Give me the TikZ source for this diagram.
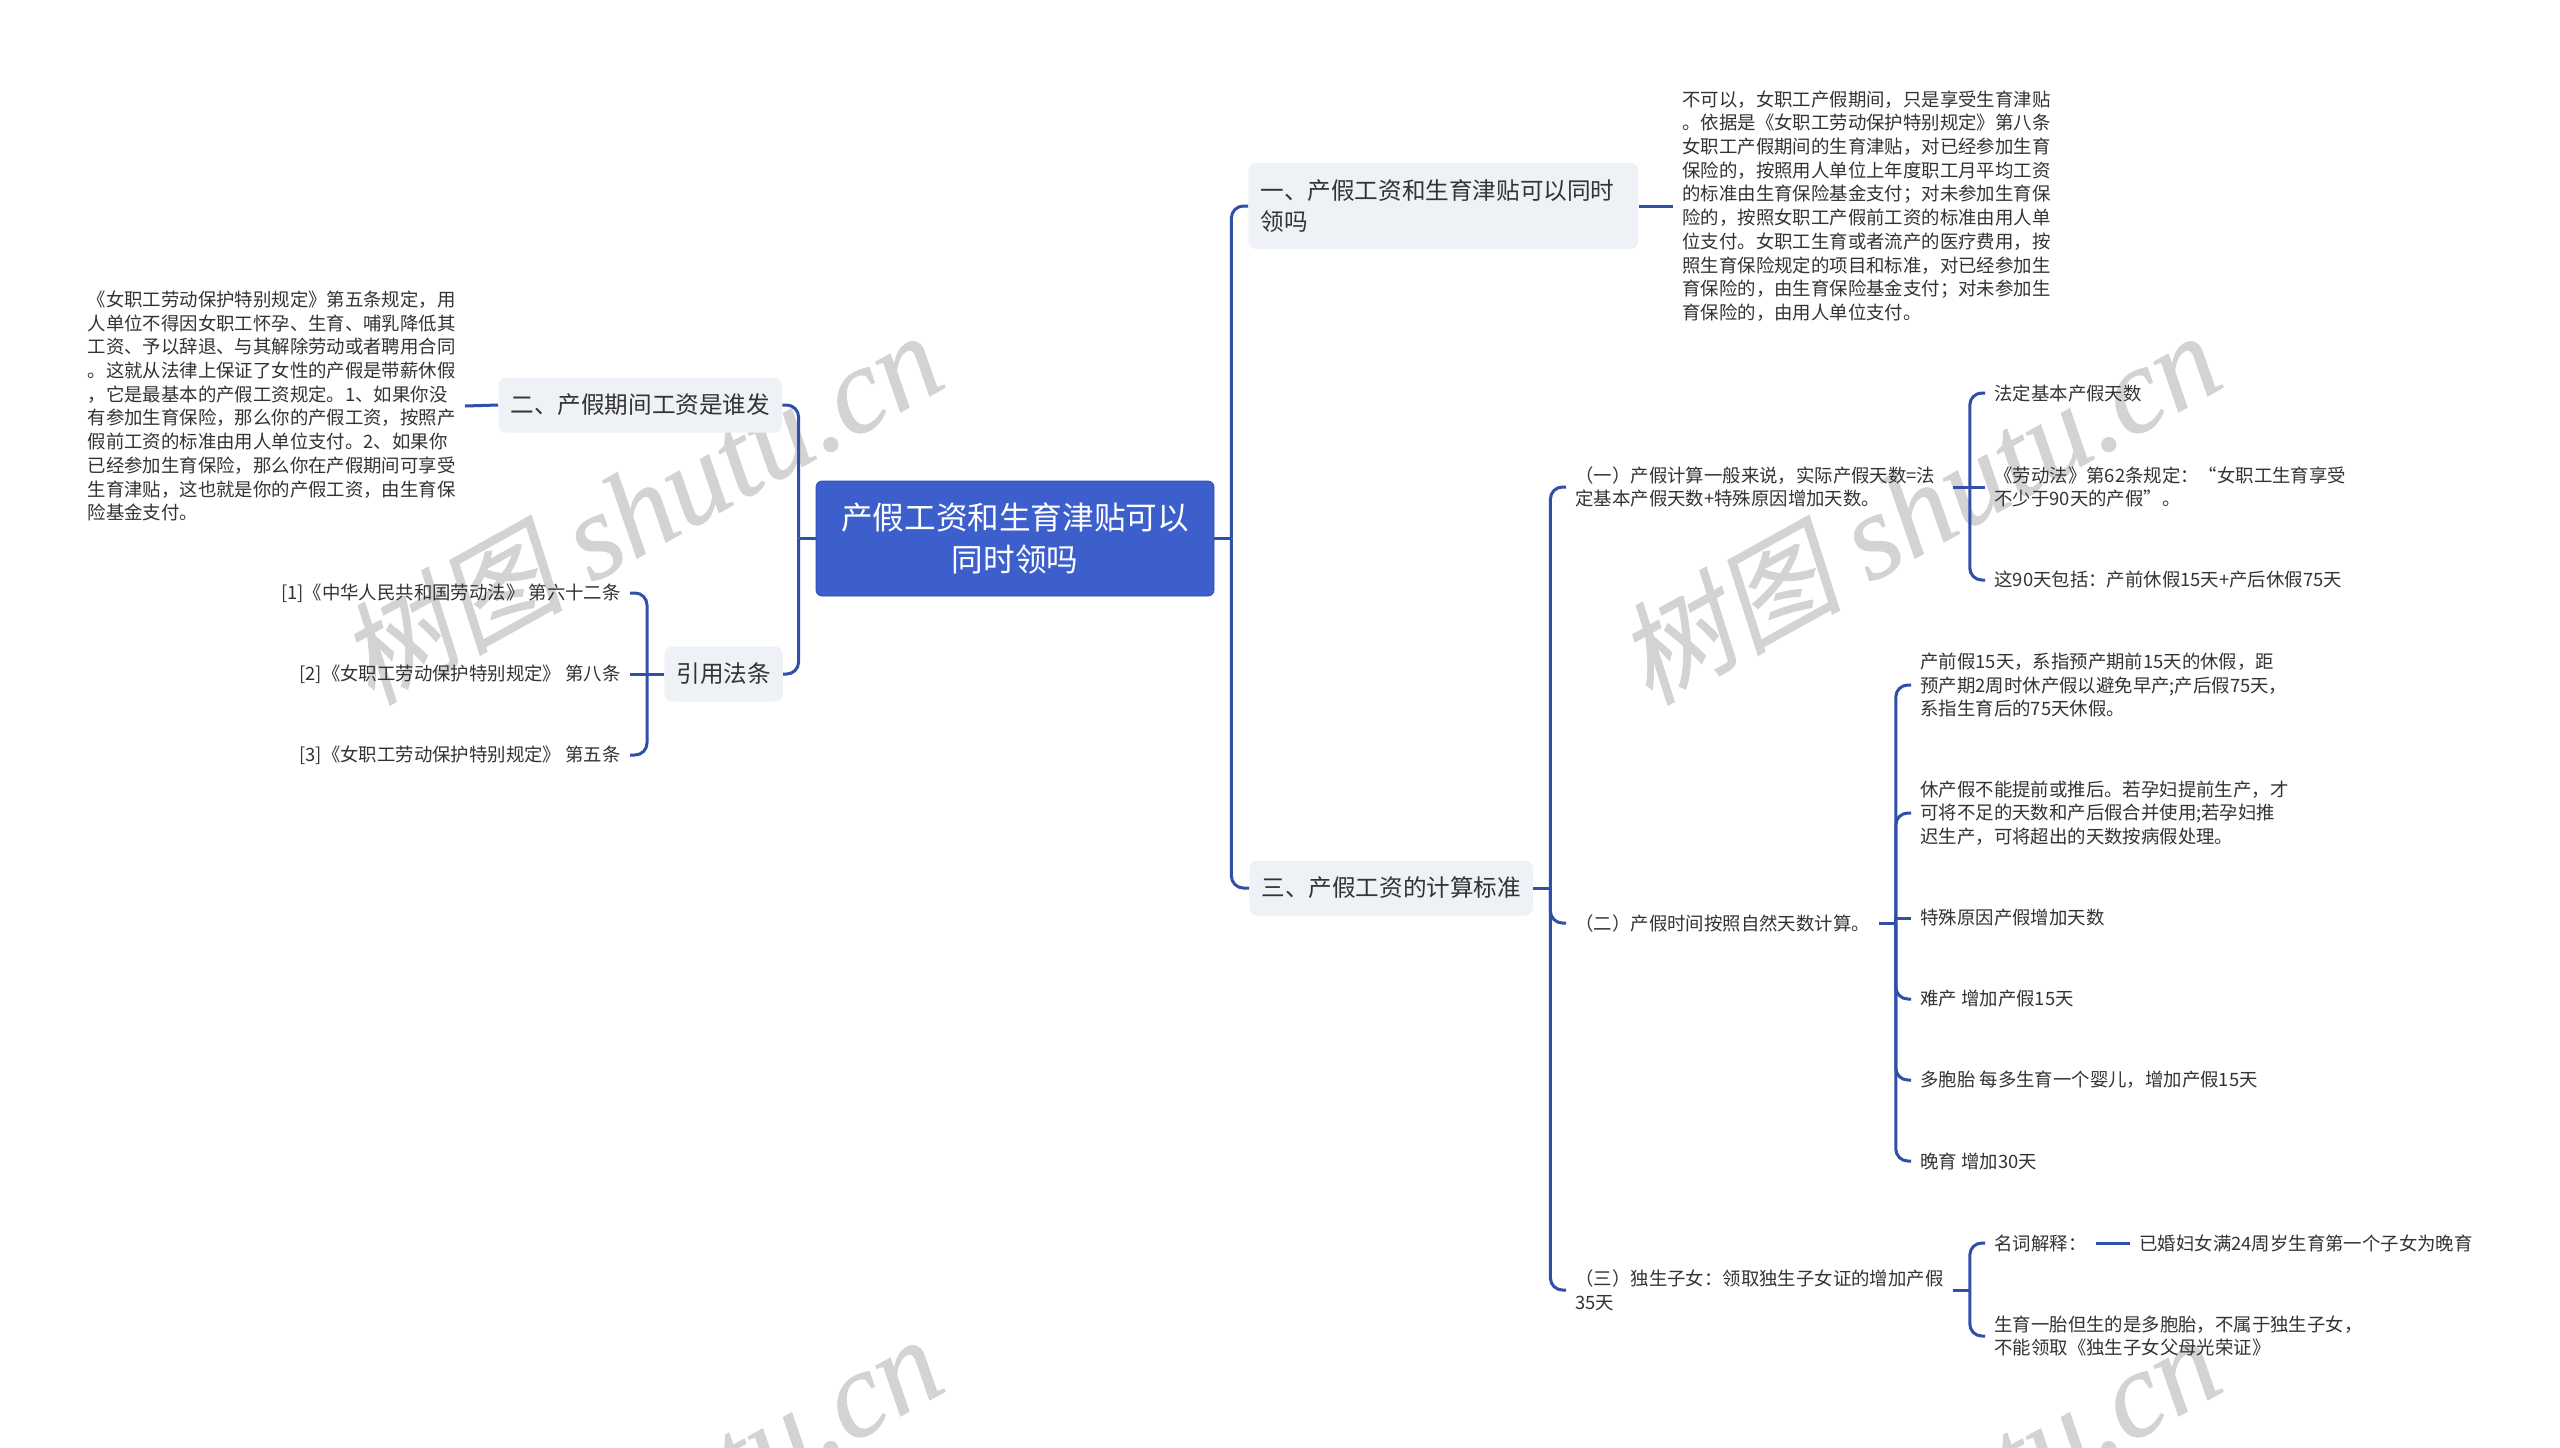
\documentclass[tikz,border=0pt]{standalone}
\usepackage{fontspec}
\setmainfont{Noto Sans CJK SC}
\newfontfamily\wmcjk[FakeSlant=0.2,FakeBold=0.6]{Noto Sans CJK SC}
\newfontfamily\wmlat[ItalicFeatures={FakeBold=0.6}]{Liberation Serif}
\definecolor{linkblue}{HTML}{2F4FA8}
\definecolor{rootblue}{HTML}{3C5FCC}
\definecolor{nodegrey}{HTML}{EEF1F5}
\definecolor{inkgrey}{HTML}{333333}
\definecolor{markgrey}{HTML}{D3D3D3}
\tikzset{
  x=0.5pt,y=-0.5pt,
  link/.style={draw=linkblue,line width=1.5pt,rounded corners=6pt},
  stem/.style={draw=linkblue,line width=1.5pt},
  rootnode/.style={fill=rootblue,draw=linkblue,line width=0.4pt,rounded corners=3pt,minimum width=199pt,minimum height=57.5pt,
    text=white,align=center,inner sep=0pt,font=\fontsize{15.8}{21}\selectfont},
  topic/.style={fill=nodegrey,rounded corners=4pt,inner ysep=0pt,inner xsep=6pt,text=inkgrey,anchor=west,align=left,
    font=\fontsize{11.8}{15.5}\selectfont},
  leaf/.style={text=inkgrey,align=left,inner ysep=2pt,inner xsep=4.5pt,font=\fontsize{9.2}{11.85}\selectfont},
  wm/.style={text=markgrey,inner sep=0pt,rotate=29},
}
\newcommand{\wmtext}{{\wmcjk\fontsize{56}{60}\selectfont 树图}\hspace{14pt}{\wmlat\itshape\fontsize{61}{64}\selectfont shutu.cn}}
\begin{document}
\begin{tikzpicture}
\path[use as bounding box,fill=white] (0,0) rectangle (2560,1447);
% watermarks
\node[wm] (wa) at (640,508) {\wmtext};
\node[wm] (wb) at (1918,508) {\wmtext};
\node[wm] (wc) at (640,1512) {\wmtext};
\node[wm] (wd) at (1918,1512) {\wmtext};
% root
\node[rootnode] (root) at (1015,538.5) {产假工资和生育津贴可以\\同时领吗};
% topics
\node[topic,minimum width=141.5pt,minimum height=27.5pt] (two) at (498,405) {二、产假期间工资是谁发};
\node[topic,minimum width=58.5pt,minimum height=27.5pt] (cite) at (664,674) {引用法条};
\node[topic,minimum width=195pt,minimum height=43pt,text width=183pt] (one) at (1248,206) {一、产假工资和生育津贴可以同时\\领吗};
\node[topic,minimum width=141pt,minimum height=27.5pt] (three) at (1249,888) {三、产假工资的计算标准};
% left leaves
\node[leaf,anchor=east,text width=184pt] (twotext) at (465,406) {《女职工劳动保护特别规定》第五条规定，用\\人单位不得因女职工怀孕、生育、哺乳降低其\\工资、予以辞退、与其解除劳动或者聘用合同\\。这就从法律上保证了女性的产假是带薪休假\\，它是最基本的产假工资规定。1、如果你没\\有参加生育保险，那么你的产假工资，按照产\\假前工资的标准由用人单位支付。2、如果你\\已经参加生育保险，那么你在产假期间可享受\\生育津贴，这也就是你的产假工资，由生育保\\险基金支付。};
\node[leaf,anchor=east] (ra) at (630,593) {[1]《中华人民共和国劳动法》 第六十二条};
\node[leaf,anchor=east] (rb) at (630,674) {[2]《女职工劳动保护特别规定》 第八条};
\node[leaf,anchor=east] (rc) at (630,755) {[3]《女职工劳动保护特别规定》 第五条};
% right of one
\node[leaf,anchor=west,text width=184pt] (onetext) at (1673,206) {不可以，女职工产假期间，只是享受生育津贴\\。依据是《女职工劳动保护特别规定》第八条\\女职工产假期间的生育津贴，对已经参加生育\\保险的，按照用人单位上年度职工月平均工资\\的标准由生育保险基金支付；对未参加生育保\\险的，按照女职工产假前工资的标准由用人单\\位支付。女职工生育或者流产的医疗费用，按\\照生育保险规定的项目和标准，对已经参加生\\育保险的，由生育保险基金支付；对未参加生\\育保险的，由用人单位支付。};
% subsections
\node[leaf,anchor=west,text width=184pt] (sa) at (1566,487) {（一）产假计算一般来说，实际产假天数=法\\定基本产假天数+特殊原因增加天数。};
\node[leaf,anchor=west,text width=147pt] (sb) at (1566,923) {（二）产假时间按照自然天数计算。};
\node[leaf,anchor=west,text width=184pt] (sc) at (1566,1290) {（三）独生子女：领取独生子女证的增加产假\\35天};
% sa children
\node[leaf,anchor=west] (saa) at (1985,393) {法定基本产假天数};
\node[leaf,anchor=west] (sab) at (1985,487) {《劳动法》第62条规定：“女职工生育享受\\不少于90天的产假”。};
\node[leaf,anchor=west] (sac) at (1985,580) {这90天包括：产前休假15天+产后休假75天};
% sb children
\node[leaf,anchor=west] (sba) at (1911,685) {产前假15天，系指预产期前15天的休假，距\\预产期2周时休产假以避免早产;产后假75天，\\系指生育后的75天休假。};
\node[leaf,anchor=west] (sbb) at (1911,813) {休产假不能提前或推后。若孕妇提前生产，才\\可将不足的天数和产后假合并使用;若孕妇推\\迟生产，可将超出的天数按病假处理。};
\node[leaf,anchor=west] (sbc) at (1911,918) {特殊原因产假增加天数};
\node[leaf,anchor=west] (sbd) at (1911,999) {难产 增加产假15天};
\node[leaf,anchor=west] (sbe) at (1911,1080) {多胞胎 每多生育一个婴儿，增加产假15天};
\node[leaf,anchor=west] (sbf) at (1911,1161) {晚育 增加30天};
% sc children
\node[leaf,anchor=west] (sca) at (1985,1243) {名词解释：};
\node[leaf,anchor=west] (scb) at (2130,1243) {已婚妇女满24周岁生育第一个子女为晚育};
\node[leaf,anchor=west] (scc) at (1985,1336) {生育一胎但生的是多胞胎，不属于独生子女，\\不能领取《独生子女父母光荣证》};
% connectors
\draw[stem] (root.west) -- ++(-17,0);
\draw[link] (root.west) ++(-17,0) |- (two.east);
\draw[link] (root.west) ++(-17,0) |- (cite.east);
\draw[stem] (two.west) -- (twotext.east);
\draw[stem] (cite.west) -- (rb.east);
\draw[link] (cite.west) ++(-17,0) |- (ra.east);
\draw[link] (cite.west) ++(-17,0) |- (rc.east);
\draw[stem] (root.east) -- ++(17,0);
\draw[link] (root.east) ++(17,0) |- (one.west);
\draw[link] (root.east) ++(17,0) |- (three.west);
\draw[stem] (one.east) -- (onetext.west);
\draw[stem] (three.east) -- ++(17,0);
\draw[link] (three.east) ++(17,0) |- (sa.west);
\draw[link] (three.east) ++(17,0) |- (sb.west);
\draw[link] (three.east) ++(17,0) |- (sc.west);
\draw[stem] (sa.east) -- (sab.west);
\draw[link] (sa.east) ++(17,0) |- (saa.west);
\draw[link] (sa.east) ++(17,0) |- (sac.west);
\draw[stem] (sb.east) -- ++(17,0);
\draw[link] (sb.east) ++(17,0) |- (sba.west);
\draw[link] (sb.east) ++(17,0) |- (sbb.west);
\draw[stem] (sb.east) ++(17,0) |- (sbc.west);
\draw[link] (sb.east) ++(17,0) |- (sbd.west);
\draw[link] (sb.east) ++(17,0) |- (sbe.west);
\draw[link] (sb.east) ++(17,0) |- (sbf.west);
\draw[stem] (sc.east) -- ++(17,0);
\draw[link] (sc.east) ++(17,0) |- (sca.west);
\draw[link] (sc.east) ++(17,0) |- (scc.west);
\draw[stem] (sca.east) -- (scb.west);
\end{tikzpicture}
\end{document}
